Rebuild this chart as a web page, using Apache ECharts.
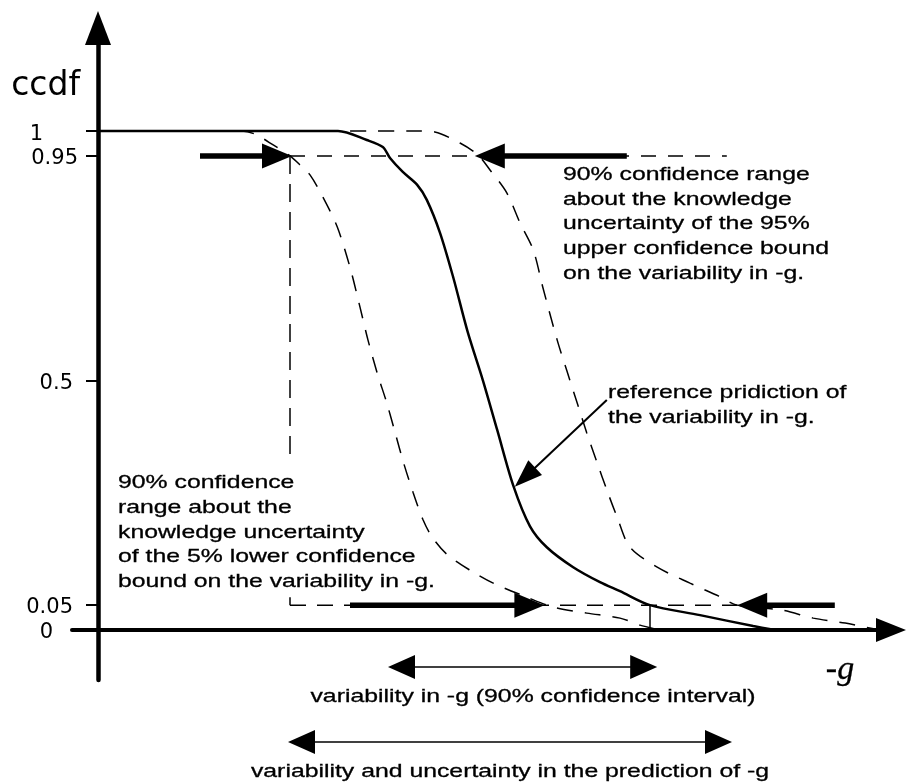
<!DOCTYPE html>
<html>
<head>
<meta charset="utf-8">
<title>ccdf of -g: reference prediction and confidence bounds</title>
<script src="https://cdn.jsdelivr.net/npm/echarts@6/dist/echarts.min.js"></script>
<style>
  html, body { margin: 0; padding: 0; background: #fff; }
  #chart { width: 906px; height: 784px; }
</style>
</head>
<body>
<div id="chart"></div>
<script>
// -g runs along x in arbitrary units, ccdf along y.
const yTickValues = [0, 0.05, 0.5, 0.95, 1];
const yTickLabels = ['0', '0.05', '0.5', '0.95', '1'];

// Reference prediction of the variability in -g (solid curve)
const referenceG    = [0, 30, 33.6, 35.6, 36.5, 38.1, 39.9, 41.1, 42.75, 44.4, 46.2, 48.1, 49.9, 51.9, 54.0, 56.1, 59.4, 62.75, 65.25, 69.0, 75.25, 81.9, 84.6];
const referenceCcdf = [1, 1, 0.982, 0.968, 0.946, 0.918, 0.892, 0.862, 0.796, 0.707, 0.598, 0.501, 0.401, 0.290, 0.208, 0.166, 0.126, 0.096, 0.078, 0.05, 0.030, 0.008, 0];

// 5% lower confidence bound (left dashed curve)
const lowerG    = [0, 18.0, 19.6, 21.9, 24.0, 25.25, 26.5, 28.1, 29.9, 31.5, 32.75, 33.75, 34.9, 36.1, 37.1, 38.2, 39.4, 40.6, 41.7, 43.6, 46.5, 49.4, 53.6, 56.9, 61.1, 65.25, 67.75, 70.25];
const lowerCcdf = [1, 1, 0.994, 0.972, 0.950, 0.932, 0.912, 0.868, 0.808, 0.727, 0.647, 0.581, 0.515, 0.455, 0.398, 0.335, 0.275, 0.222, 0.188, 0.152, 0.120, 0.094, 0.066, 0.046, 0.034, 0.024, 0.010, 0];

// 95% upper confidence bound (right dashed curve)
const upperG    = [0, 40.25, 42.1, 45.25, 47.5, 49.0, 51.1, 52.75, 54.4, 55.6, 57.4, 58.6, 59.9, 61.1, 62.4, 63.6, 64.9, 66.5, 69.9, 74.0, 77.6, 79.9, 85.5, 89.4, 93.4, 97.1];
const upperCcdf = [1, 1, 0.998, 0.976, 0.952, 0.922, 0.876, 0.816, 0.762, 0.687, 0.581, 0.520, 0.455, 0.395, 0.335, 0.281, 0.226, 0.166, 0.126, 0.094, 0.068, 0.05, 0.040, 0.024, 0.014, 0.002];

// Guide lines at the 0.95 and 0.05 levels
const level95 = [[24, 0.95], [78.6, 0.95]];
const level05 = [[24, 0.05], [79.9, 0.05]];
const guideUpper = [[24, 0.95], [24, 0.335]];
const guideLower = [[24, 0.066], [24, 0.05]];
const referenceDrop = [[69, 0.05], [69, 0]];

// Arrows: [from g, from ccdf, to g, to ccdf]
const pointerArrows = [
  [12.75, 0.95, 24.25, 0.95],
  [66.1, 0.95, 47.1, 0.95],
  [31.5, 0.05, 55.8, 0.05],
  [92.1, 0.05, 79.9, 0.05]
];
const calloutArrows = [[63.6, 0.461, 52.1, 0.287]];
const spanArrows = [
  [36.25, -0.0741, 69.9, -0.0741],
  [23.75, -0.2244, 79.25, -0.2244]
];

// Annotation blocks (left edge, top of first line)
const noteText = [
  '90% confidence range\nabout the knowledge\nuncertainty of the 95%\nupper confidence bound\non the variability in -g.',
  'reference pridiction of\nthe variability in -g.',
  '90% confidence\nrange about the\nknowledge uncertainty\nof the 5% lower confidence\nbound on the variability in -g.'
];
const noteAnchors = [[58.125, 0.9366], [63.75, 0.5], [2.5, 0.3193]];

// Captions centred under the span arrows
const captionText = [
  'variability in -g (90% confidence interval)',
  'variability and uncertainty in the prediction of -g'
];
const captionAnchors = [[54.375, -0.1343], [51.5, -0.2846]];

// Horizontal axis title
const xTitle = ['-g'];
const xTitleAnchor = [[92.75, -0.0802]];

const zip = (xs, ys) => xs.map((x, i) => [x, ys[i]]);
const INK = '#000';
const TEXT_STRETCH = 1.34;

function arrowItem(api, doubleHeaded, shaftWidth, headLen, headHalf) {
  const a = api.coord([api.value(0), api.value(1)]);
  const b = api.coord([api.value(2), api.value(3)]);
  const dx = b[0] - a[0], dy = b[1] - a[1];
  const len = Math.hypot(dx, dy) || 1;
  const ux = dx / len, uy = dy / len, nx = -uy, ny = ux;
  const head = (tip, dir) => {
    const bx = tip[0] - dir * ux * headLen, by = tip[1] - dir * uy * headLen;
    return {
      type: 'polygon',
      shape: { points: [[tip[0], tip[1]], [bx + nx * headHalf, by + ny * headHalf], [bx - nx * headHalf, by - ny * headHalf]] },
      style: { fill: INK }
    };
  };
  const inset = headLen * 0.8;
  const s = doubleHeaded ? [a[0] + ux * inset, a[1] + uy * inset] : a;
  const e = [b[0] - ux * inset, b[1] - uy * inset];
  const children = [
    { type: 'line', shape: { x1: s[0], y1: s[1], x2: e[0], y2: e[1] }, style: { stroke: INK, lineWidth: shaftWidth, lineCap: 'butt' } },
    head(b, 1)
  ];
  if (doubleHeaded) children.push(head(a, -1));
  return { type: 'group', children };
}

function curve(data, width, dash) {
  return {
    type: 'line', data, symbol: 'none', smooth: 0.3, z: 2,
    lineStyle: { color: INK, width, type: dash || 'solid' }, silent: true
  };
}
function straight(data, width, dash) {
  return {
    type: 'line', data, symbol: 'none', smooth: false, z: 2,
    lineStyle: { color: INK, width, type: dash || 'solid' }, silent: true
  };
}
function arrowSeries(data, doubleHeaded, shaftWidth, headLen, headHalf) {
  return {
    type: 'custom', coordinateSystem: 'cartesian2d', clip: false, silent: true, z: 3,
    encode: { x: [0, 2], y: [1, 3] }, data,
    renderItem: (params, api) => arrowItem(api, doubleHeaded, shaftWidth, headLen, headHalf)
  };
}
function textSeries(anchors, texts, align, vAlign, font) {
  return {
    type: 'custom', coordinateSystem: 'cartesian2d', clip: false, silent: true, z: 4,
    encode: { x: 0, y: 1 }, data: anchors,
    renderItem: (params, api) => {
      const p = api.coord([api.value(0), api.value(1)]);
      return {
        type: 'text', x: p[0], y: p[1], scaleX: font.stretch,
        style: Object.assign({
          text: texts[params.dataIndex], fill: INK, stroke: INK, lineWidth: font.weight,
          align, verticalAlign: vAlign
        }, font.style)
      };
    }
  };
}

const noteFont = {
  stretch: TEXT_STRETCH, weight: 0.3,
  style: { fontFamily: '"Liberation Sans", Arial, sans-serif', fontSize: 18.5, lineHeight: 24.7 }
};
const titleFont = {
  stretch: 1, weight: 0.3,
  style: { fontFamily: '"Liberation Serif", "DejaVu Serif", serif', fontStyle: 'italic', fontSize: 34 }
};

const labelFor = v => {
  const i = yTickValues.findIndex(t => Math.abs(t - v) < 1e-9);
  return i < 0 ? '' : yTickLabels[i];
};
const labelStyle = { fontFamily: '"DejaVu Sans", sans-serif', fontSize: 21, color: INK };

const chart = echarts.init(document.getElementById('chart'), null, { renderer: 'canvas' });
chart.setOption({
  animation: false,
  backgroundColor: '#fff',
  grid: { left: 72, right: 15, top: 28, bottom: 104, outerBoundsMode: 'none' },
  xAxis: {
    type: 'value', min: -3.25, max: 99.125,
    splitLine: { show: false }, axisTick: { show: false }, axisLabel: { show: false },
    axisLine: { show: true, onZero: true, lineStyle: { color: INK, width: 4 }, symbol: ['none', 'triangle'], symbolSize: [24, 30] }
  },
  yAxis: {
    type: 'value', min: -0.1, max: 1.2064,
    splitLine: { show: false },
    axisLine: { show: true, onZero: true, lineStyle: { color: INK, width: 4.5 }, symbol: ['none', 'triangle'], symbolSize: [26, 34] },
    axisTick: { show: true, customValues: [0.05, 0.5, 0.95, 1], length: 12, lineStyle: { color: INK, width: 2 } },
    axisLabel: {
      show: true, customValues: yTickValues, margin: -6,
      formatter: v => {
        const t = labelFor(v);
        if (t === '1') return '{one|' + t + '}';
        if (t === '0') return '{zero|' + t + '}';
        if (t === '0.95') return '{wide|' + t + '}';
        return '{std|' + t + '}';
      },
      rich: {
        one: Object.assign({ padding: [8, 35, 0, 0] }, labelStyle),
        zero: Object.assign({ padding: [5, 25, 0, 0] }, labelStyle),
        wide: Object.assign({ padding: [6, 0, 0, 0] }, labelStyle),
        std: Object.assign({ padding: [5, 5, 0, 0] }, labelStyle)
      }
    },
    name: 'ccdf', nameLocation: 'end', nameGap: -58, nameMoveOverlap: false,
    nameTextStyle: {
      fontFamily: '"DejaVu Sans", sans-serif', fontSize: 33, color: INK,
      align: 'right', verticalAlign: 'middle', padding: [0, 18, 0, 0]
    }
  },
  series: [
    curve(zip(referenceG, referenceCcdf), 2.5),
    curve(zip(lowerG, lowerCcdf), 1.5, [16, 12]),
    curve(zip(upperG, upperCcdf), 1.5, [16, 12]),
    straight(level95, 1.5, [15, 12]),
    straight(level05, 1.5, [16, 11]),
    straight(guideUpper, 1.5, [18, 10]),
    straight(guideLower, 1.5, [18, 10]),
    straight(referenceDrop, 1.5),
    arrowSeries(pointerArrows, false, 5.5, 30, 12.5),
    arrowSeries(calloutArrows, false, 2, 28, 10),
    arrowSeries(spanArrows, true, 1.5, 27, 12),
    textSeries(noteAnchors, noteText, 'left', 'top', noteFont),
    textSeries(captionAnchors, captionText, 'center', 'middle', noteFont),
    textSeries(xTitleAnchor, xTitle, 'center', 'middle', titleFont)
  ]
});
</script>
</body>
</html>
